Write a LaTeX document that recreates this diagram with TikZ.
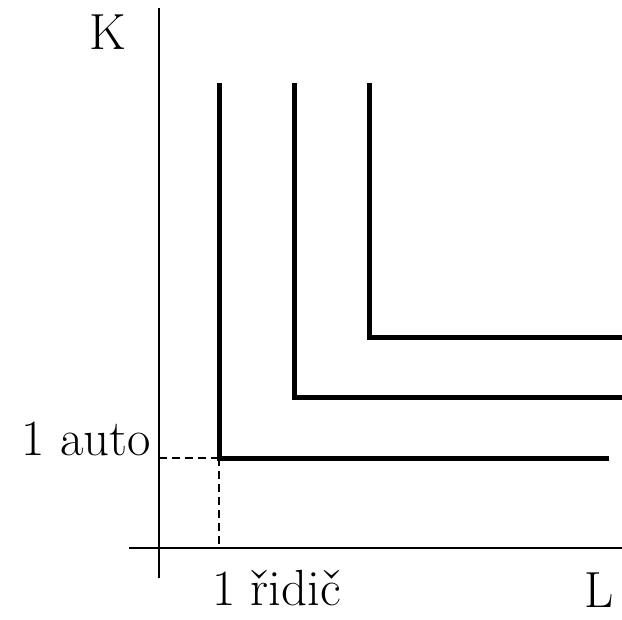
\documentclass[tikz,border=0pt]{standalone}
\begin{document}
\begin{tikzpicture}[x=1bp,y=-1bp,
  axis/.style={line width=2bp},
  isoquant/.style={line width=5bp},
  guide/.style={line width=1.8bp,dash pattern=on 8bp off 5bp},
  lbl/.style={inner sep=0pt,font=\fontsize{51}{56}\selectfont}]
\useasboundingbox (0,0) rectangle (622,620);
% axes
\coordinate (ytop) at (159,8);
\coordinate (ybot) at (159,578);
\coordinate (xleft) at (129,548);
\coordinate (xright) at (622,548);
\draw[axis] (ybot) -- (ytop);
\draw[axis] (xleft) -- (xright);
% isoquant corners and ends
\coordinate (c1) at (219,458);
\coordinate (c2) at (294,397);
\coordinate (c3) at (369,337);
\coordinate (t1) at (219,83);
\coordinate (t2) at (294,83);
\coordinate (t3) at (369,83);
\coordinate (e1) at (609,458);
\coordinate (e2) at (622,397);
\coordinate (e3) at (622,337);
\draw[isoquant] (t1) -- (c1) -- (e1);
\draw[isoquant] (t2) -- (c2) -- (e2);
\draw[isoquant] (t3) -- (c3) -- (e3);
% guide lines to the axes
\coordinate (ya) at (159,458);
\coordinate (xa) at (219,548);
\draw[guide] (ya) -- (c1);
\draw[guide] (c1) -- (xa);
% labels
\node[lbl,anchor=base west] (K) at (89,50) {K};
\node[lbl,anchor=base west] (L) at (584,607) {L};
\node[lbl,anchor=base east] (auto) at (151,455) {1 auto};
\node[lbl,anchor=base west] (ridic) at (212,605) {1 řidič};
\end{tikzpicture}
\end{document}
